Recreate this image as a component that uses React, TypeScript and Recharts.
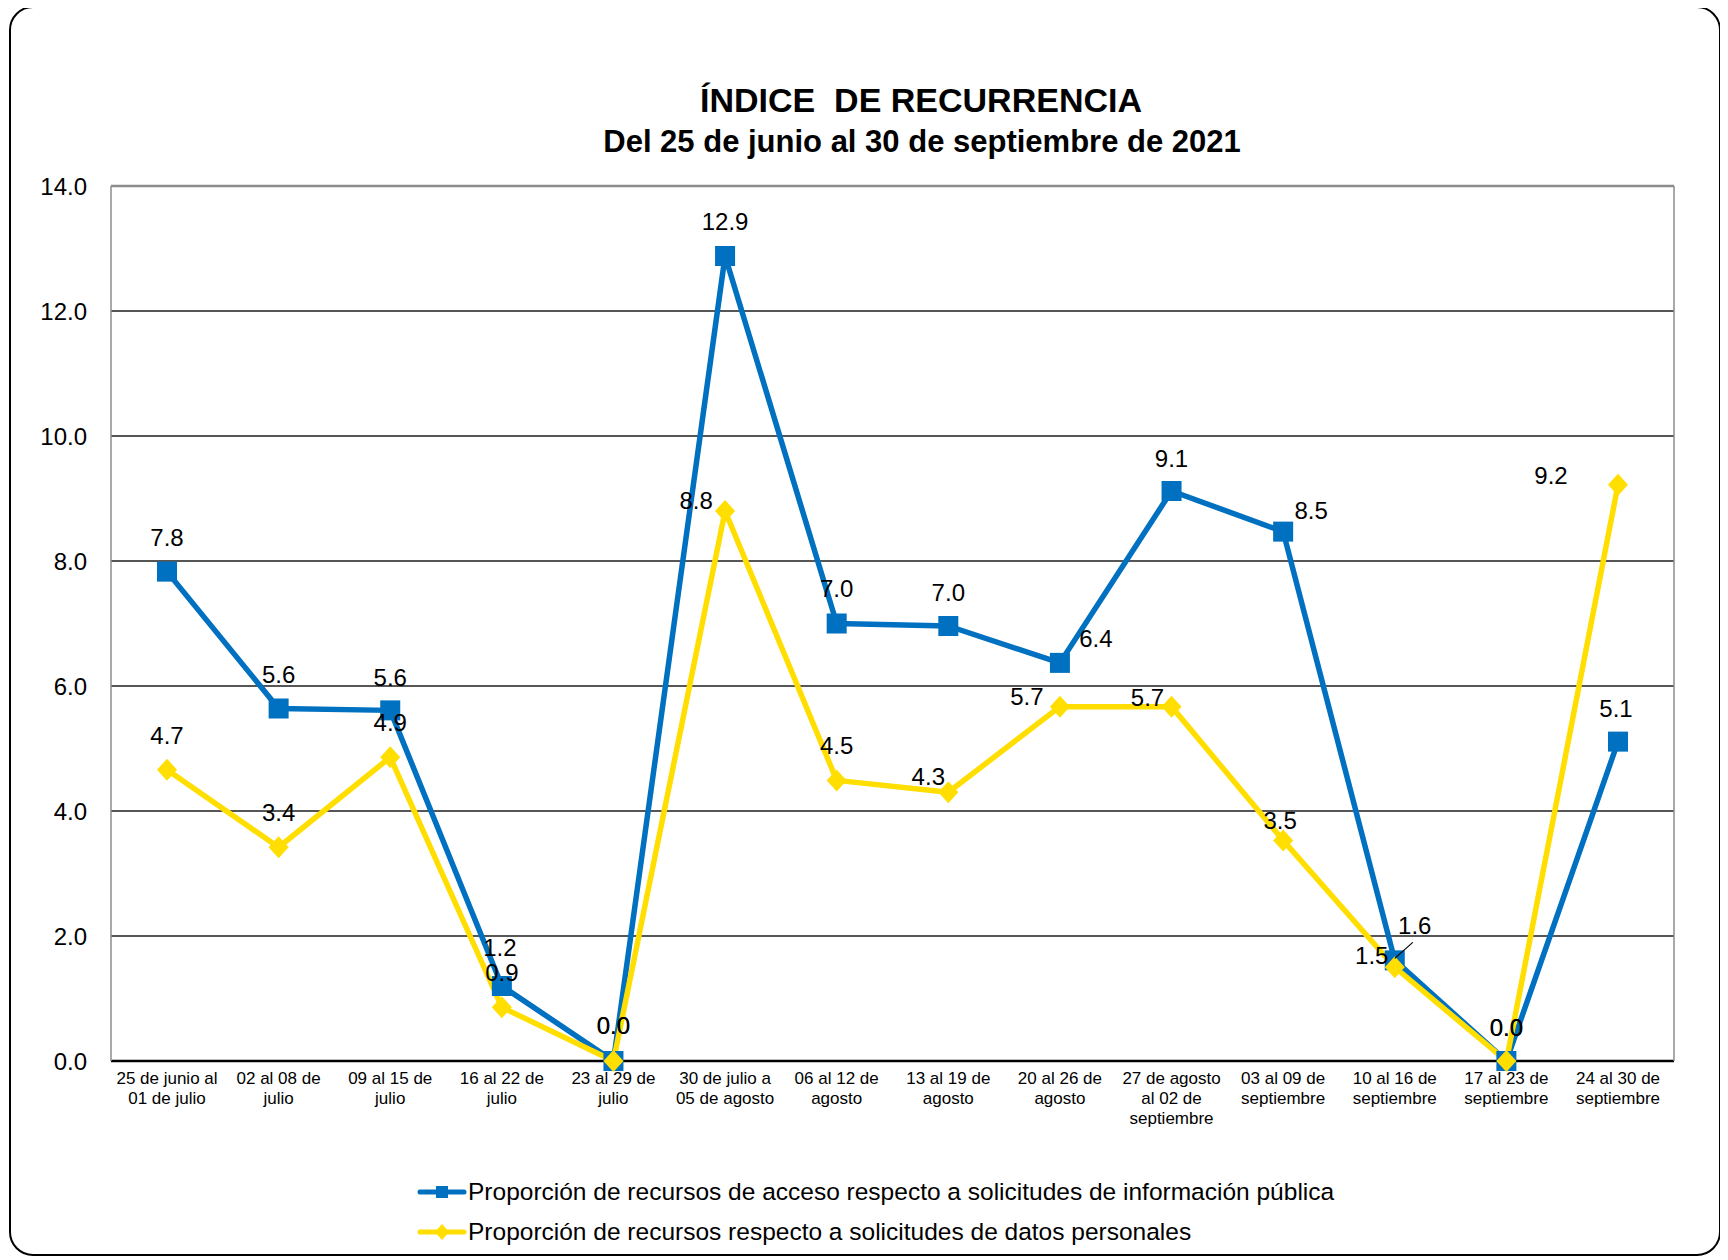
import React from "react";
import {
  LineChart,
  Line,
  XAxis,
  YAxis,
  CartesianGrid,
  ReferenceLine,
  LabelList,
  Legend,
} from "recharts";

const periods = [
  "p01", "p02", "p03", "p04", "p05", "p06", "p07",
  "p08", "p09", "p10", "p11", "p12", "p13", "p14",
];

const periodLabels = [
  ["25 de junio al", "01 de julio"],
  ["02 al 08 de", "julio"],
  ["09 al 15 de", "julio"],
  ["16 al 22 de", "julio"],
  ["23 al 29 de", "julio"],
  ["30 de julio a", "05 de agosto"],
  ["06 al 12 de", "agosto"],
  ["13 al 19 de", "agosto"],
  ["20 al 26 de", "agosto"],
  ["27 de agosto", "al 02 de", "septiembre"],
  ["03 al 09 de", "septiembre"],
  ["10 al 16 de", "septiembre"],
  ["17 al 23 de", "septiembre"],
  ["24 al 30 de", "septiembre"],
];

const accesoValues = [7.83, 5.64, 5.61, 1.2, 0, 12.88, 7.0, 6.96, 6.37, 9.12, 8.47, 1.61, 0, 5.11];
const datosValues = [4.66, 3.42, 4.86, 0.86, 0, 8.8, 4.49, 4.3, 5.67, 5.67, 3.53, 1.5, 0, 9.22];

const yTicks = [0, 2, 4, 6, 8, 10, 12, 14];

const accesoName = "Proporción de recursos de acceso respecto a solicitudes de información pública";
const datosName = "Proporción de recursos respecto a solicitudes de datos personales";

const data = periods.map((p, i) => ({
  period: p,
  acceso: accesoValues[i],
  datos: datosValues[i],
}));

const BLUE = "#0070C0";
const YELLOW = "#FFDE00";
const FONT = "'Liberation Sans', Arial, sans-serif";

// label shift from the point, [dx, dy, leader]
const accesoShift = [
  [0, -35], [0, -35], [0, -33], [-2, -39], [0, -36], [0, -35], [0, -36],
  [0, -34], [36, -25], [0, -33], [28, -22], [20, -35, 1], [0, -34], [-2, -34],
];
const datosShift = [
  [0, -35], [0, -35], [0, -35], [0, -35], [0, -36], [-29, -11], [0, -35],
  [-20, -16], [-33, -11], [-24, -10], [-3, -20], [-23, -12], [0, -34], [-67, -10],
];

const makeLabel = (shift) => (props) => {
  const { x, y, value, index } = props;
  const [dx, dy, leader] = shift[index];
  return (
    <g key={`lbl-${index}`}>
      <text
        x={x + dx}
        y={y + dy + 9}
        textAnchor="middle"
        fontSize={24}
        fontFamily={FONT}
        fill="#000"
      >
        {Number(value).toFixed(1)}
      </text>
      {leader ? (
        <line x1={x + 18} y1={y - 18} x2={x} y2={y - 2} stroke="#000" strokeWidth={1.2} />
      ) : null}
    </g>
  );
};

const squareDot = (props) => {
  const { cx, cy, index } = props;
  return <rect key={`sq-${index}`} x={cx - 10} y={cy - 10} width={20} height={20} fill={BLUE} />;
};

const diamondDot = (props) => {
  const { cx, cy, index } = props;
  return (
    <polygon
      key={`dm-${index}`}
      points={`${cx},${cy - 11} ${cx + 10},${cy} ${cx},${cy + 11} ${cx - 10},${cy}`}
      fill={YELLOW}
    />
  );
};

const PeriodTick = (props) => {
  const { x, y, payload, index } = props;
  const lines = periodLabels[payload?.index ?? index] || [];
  return (
    <text x={x} y={y} textAnchor="middle" fontSize={17} fontFamily={FONT} fill="#000">
      {lines.map((l, i) => (
        <tspan key={i} x={x} dy={i === 0 ? 23 : 20}>
          {l}
        </tspan>
      ))}
    </text>
  );
};

const LegendRows = () => {
  const rows = [
    { name: accesoName, color: BLUE, shape: "square" },
    { name: datosName, color: YELLOW, shape: "diamond" },
  ];
  return (
    <div style={{ fontFamily: FONT }}>
      {rows.map((r) => (
        <div key={r.name} style={{ display: "flex", alignItems: "center", height: 40 }}>
          <svg width={50} height={24}>
            <line x1={3} y1={12} x2={47} y2={12} stroke={r.color} strokeWidth={5} strokeLinecap="round" />
            {r.shape === "square" ? (
              <rect x={19} y={6} width={12} height={12} fill={r.color} />
            ) : (
              <polygon points="25,4 32,12 25,20 18,12" fill={r.color} />
            )}
          </svg>
          <span style={{ fontSize: 24.5, color: "#000", marginLeft: 1, whiteSpace: "nowrap" }}>{r.name}</span>
        </div>
      ))}
    </div>
  );
};

export default function App() {
  return (
    <div style={{ position: "relative", width: 1712, height: 1250, fontFamily: FONT }}>
      <div
        style={{
          position: "absolute",
          left: 1,
          top: -2,
          width: 1712,
          height: 1250,
          border: "2px solid #000",
          borderRadius: 24,
          boxSizing: "border-box",
        }}
      />
      <div style={{ position: "absolute", left: 0, top: 0 }}>
        <LineChart
          width={1712}
          height={1250}
          data={data}
          margin={{ top: 178, right: 45, left: 13, bottom: 77 }}
        >
          <text x={913} y={104} textAnchor="middle" fontSize={34} fontWeight="bold" fontFamily={FONT} fill="#000">
            {"ÍNDICE\u00a0 DE RECURRENCIA"}
          </text>
          <text x={914} y={144} textAnchor="middle" fontSize={31} fontWeight="bold" fontFamily={FONT} fill="#000">
            Del 25 de junio al 30 de septiembre de 2021
          </text>
          <CartesianGrid vertical={false} stroke="#1e1e1e" strokeWidth={1.6} />
          <ReferenceLine y={14} stroke="#8c8c8c" strokeWidth={2.5} />
          <XAxis
            dataKey="period"
            height={120}
            padding={{ left: 56, right: 56 }}
            axisLine={{ stroke: "#000", strokeWidth: 2.6 }}
            tickLine={false}
            tickSize={0}
            tickMargin={0}
            interval={0}
            tick={<PeriodTick />}
          />
          <YAxis
            domain={[0, 14]}
            ticks={yTicks}
            width={90}
            tickFormatter={(v) => v.toFixed(1)}
            axisLine={{ stroke: "#8c8c8c", strokeWidth: 1.5 }}
            tickLine={false}
            tickSize={6}
            tickMargin={18}
            tick={{ fontSize: 24, fill: "#000", fontFamily: FONT }}
          />
          <YAxis
            yAxisId="frame"
            orientation="right"
            domain={[0, 14]}
            width={1}
            tick={false}
            tickLine={false}
            axisLine={{ stroke: "#8c8c8c", strokeWidth: 1.5 }}
          />
          <Legend
            layout="horizontal"
            verticalAlign="middle"
            align="center"
            wrapperStyle={{ left: 409, top: 1164, width: 1000, height: 80 }}
            content={() => <LegendRows />}
          />
          <Line
            type="linear"
            dataKey="acceso"
            name={accesoName}
            stroke={BLUE}
            strokeWidth={5.5}
            strokeLinejoin="round"
            dot={squareDot}
            activeDot={false}
            isAnimationActive={false}
          >
            <LabelList dataKey="acceso" content={makeLabel(accesoShift)} />
          </Line>
          <Line
            type="linear"
            dataKey="datos"
            name={datosName}
            stroke={YELLOW}
            strokeWidth={5.5}
            strokeLinejoin="round"
            dot={diamondDot}
            activeDot={false}
            isAnimationActive={false}
          >
            <LabelList dataKey="datos" content={makeLabel(datosShift)} />
          </Line>
        </LineChart>
      </div>
    </div>
  );
}
